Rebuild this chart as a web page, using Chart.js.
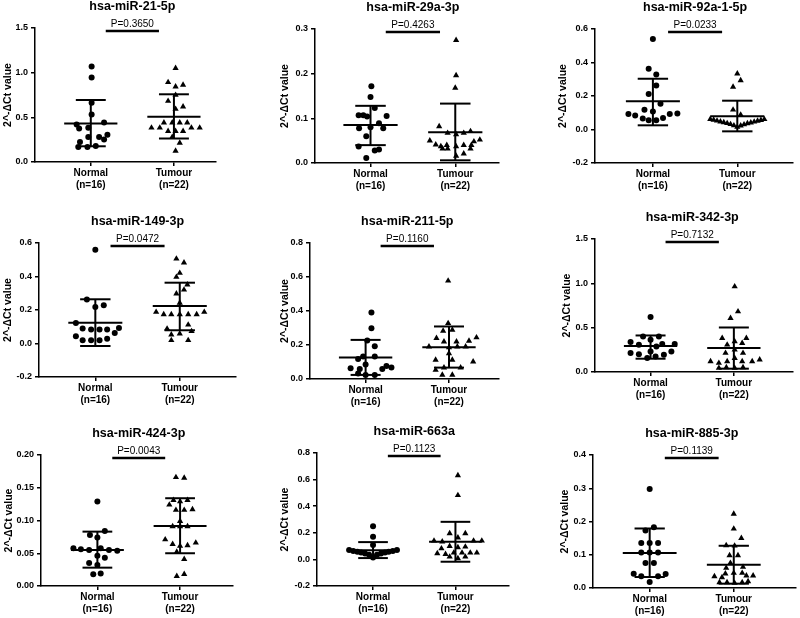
<!DOCTYPE html>
<html>
<head>
<meta charset="utf-8">
<script src="https://cdn.jsdelivr.net/npm/chart.js@4.4.0/dist/chart.umd.min.js"></script>
<style>
  html, body { margin: 0; padding: 0; background: #fff; }
  #wrap { position: relative; width: 800px; height: 618px; overflow: hidden; }
  canvas { position: absolute; }
</style>
</head>
<body>
<div id="wrap"></div>
<script>
// ---- data ----
const titles = ['hsa-miR-21-5p', 'hsa-miR-29a-3p', 'hsa-miR-92a-1-5p', 'hsa-miR-149-3p', 'hsa-miR-211-5p',
                'hsa-miR-342-3p', 'hsa-miR-424-3p', 'hsa-miR-663a', 'hsa-miR-885-3p'];
const pValues = ['P=0.3650', 'P=0.4263', 'P=0.0233', 'P=0.0472', 'P=0.1160', 'P=0.7132', 'P=0.0043', 'P=0.1123', 'P=0.1139'];
const categories = ['Normal', 'Tumour'];
const groupSizes = ['(n=16)', '(n=22)'];
const yMin = [0, 0, -0.2, -0.2, 0, 0, 0, -0.2, 0];
const yMax = [1.5, 0.3, 0.6, 0.6, 0.8, 1.5, 0.2, 0.8, 0.4];
const yStep = [0.5, 0.1, 0.2, 0.2, 0.2, 0.5, 0.05, 0.2, 0.1];
const yDecimals = [1, 1, 1, 1, 1, 1, 2, 1, 1];

const normalValues = [
  [1.069, 0.945, 0.664, 0.532, 0.42, 0.442, 0.375, 0.383, 0.304, 0.281, 0.281, 0.251, 0.225, 0.169, 0.169, 0.18],
  [0.172, 0.148, 0.123, 0.107, 0.107, 0.104, 0.105, 0.089, 0.08, 0.078, 0.078, 0.06, 0.037, 0.028, 0.03, 0.011],
  [0.54, 0.363, 0.329, 0.262, 0.212, 0.154, 0.118, 0.108, 0.093, 0.083, 0.065, 0.055, 0.055, 0.069, 0.093, 0.095],
  [0.56, 0.262, 0.218, 0.228, 0.122, 0.089, 0.083, 0.083, 0.083, 0.093, 0.063, 0.043, 0.019, 0.019, 0.019, 0.029],
  [0.391, 0.299, 0.226, 0.193, 0.118, 0.132, 0.132, 0.086, 0.063, 0.059, 0.059, 0.077, 0.067, 0.033, 0.024, 0.024],
  [0.619, 0.401, 0.401, 0.337, 0.364, 0.307, 0.315, 0.315, 0.214, 0.2, 0.232, 0.232, 0.157, 0.176, 0.195, 0.289],
  [0.129, 0.078, 0.084, 0.074, 0.0575, 0.056, 0.055, 0.0575, 0.055, 0.054, 0.046, 0.043, 0.035, 0.032, 0.018, 0.019],
  [0.25, 0.17, 0.108, 0.07, 0.064, 0.058, 0.052, 0.045, 0.035, 0.015, 0.035, 0.045, 0.052, 0.058, 0.064, 0.07],
  [0.298, 0.183, 0.173, 0.135, 0.135, 0.135, 0.107, 0.107, 0.107, 0.075, 0.075, 0.043, 0.042, 0.035, 0.035, 0.018]
];
// horizontal scatter of each dot around its category (category units)
const normalJitter = [
  [0.01, 0.01, 0.01, 0.01, -0.17, 0.16, -0.14, -0.03, 0.2, -0.03, 0.1, 0.16, -0.13, -0.15, -0.04, 0.06],
  [0.01, 0, 0.05, -0.14, -0.085, -0.04, 0.19, 0.1, 0, -0.135, 0.15, -0.05, -0.14, 0.05, 0.1, -0.05],
  [0, -0.05, 0.04, 0.04, -0.05, 0.09, -0.1, 0, -0.29, -0.21, -0.12, -0.05, 0.04, 0.12, 0.2, 0.29],
  [0, -0.1, 0, 0.1, -0.23, -0.15, -0.05, 0.05, 0.14, 0.28, 0.23, -0.23, -0.15, -0.05, 0.05, 0.14],
  [0.07, 0.07, 0.02, 0.11, -0.09, -0.03, 0.11, 0, -0.18, -0.07, 0.2, 0.25, 0.31, -0.09, 0, 0.11],
  [0, -0.09, 0.1, -0.24, 0, -0.14, 0.14, 0.29, -0.24, -0.14, 0.25, 0, -0.04, 0.06, 0.16, 0.07],
  [0, -0.09, 0.09, 0, -0.29, -0.2, -0.1, 0.04, 0.14, 0.24, 0, 0.09, -0.1, 0, -0.05, 0.04],
  [0, 0, 0, -0.29, -0.24, -0.19, -0.145, -0.097, -0.048, 0, 0.048, 0.097, 0.145, 0.19, 0.24, 0.29],
  [0, 0.05, -0.05, -0.1, 0, 0.1, -0.1, 0, 0.1, -0.05, 0.05, -0.19, 0.19, -0.1, 0.1, 0]
];
const tumourValues = [
  [1.05, 0.893, 0.844, 0.863, 0.75, 0.683, 0.619, 0.593, 0.44, 0.44, 0.44, 0.44, 0.383, 0.383, 0.383, 0.383, 0.345, 0.345, 0.345, 0.28, 0.214, 0.124],
  [0.275, 0.196, 0.168, 0.082, 0.067, 0.064, 0.067, 0.071, 0.05, 0.041, 0.037, 0.04, 0.04, 0.04, 0.048, 0.052, 0.032, 0.037, 0.032, 0.016, 0.021, 0.032],
  [0.333, 0.293, 0.254, 0.118, 0.088, 0.062, 0.057, 0.052, 0.047, 0.042, 0.037, 0.031, 0.024, 0.015, 0.023, 0.03, 0.036, 0.041, 0.046, 0.051, 0.056, 0.061],
  [0.506, 0.483, 0.421, 0.397, 0.351, 0.298, 0.321, 0.242, 0.188, 0.174, 0.174, 0.174, 0.174, 0.174, 0.188, 0.112, 0.088, 0.073, 0.053, 0.059, 0.019, 0.019],
  [0.578, 0.328, 0.289, 0.283, 0.24, 0.244, 0.22, 0.22, 0.224, 0.19, 0.185, 0.19, 0.19, 0.151, 0.112, 0.112, 0.102, 0.067, 0.067, 0.053, 0.024, 0.024],
  [0.964, 0.682, 0.607, 0.382, 0.382, 0.345, 0.307, 0.326, 0.214, 0.214, 0.157, 0.12, 0.101, 0.12, 0.12, 0.12, 0.139, 0.052, 0.045, 0.052, 0.045, 0.251],
  [0.166, 0.165, 0.124, 0.131, 0.131, 0.116, 0.116, 0.117, 0.099, 0.091, 0.091, 0.091, 0.071, 0.064, 0.061, 0.062, 0.066, 0.052, 0.041, 0.015, 0.018, 0.129],
  [0.632, 0.482, 0.195, 0.195, 0.163, 0.14, 0.133, 0.14, 0.14, 0.1, 0.095, 0.09, 0.045, 0.04, 0.05, 0.05, 0.05, 0.05, 0.02, 0.0075, 0.02, 0.082],
  [0.223, 0.178, 0.15, 0.128, 0.127, 0.098, 0.098, 0.06, 0.063, 0.043, 0.045, 0.045, 0.035, 0.032, 0.037, 0.037, 0.017, 0.017, 0.015, 0.017, 0.02, 0.075]
];
const tumourJitter = [
  [0.02, -0.07, 0.02, 0.11, 0.02, -0.07, 0.11, 0.02, -0.12, -0.02, 0.07, 0.16, -0.27, -0.17, 0.21, 0.31, -0.07, 0.02, 0.11, -0.02, 0.07, 0.02],
  [0.01, 0.01, 0, -0.19, -0.09, 0.01, 0.1, 0.18, -0.3, -0.23, -0.17, -0.1, 0.1, 0.19, 0.22, 0.29, -0.09, 0.01, 0.18, 0.01, 0.1, -0.15],
  [0, 0.04, -0.05, -0.05, 0.04, -0.32, -0.28, -0.24, -0.2, -0.16, -0.12, -0.08, -0.04, 0, 0.04, 0.08, 0.12, 0.16, 0.2, 0.24, 0.28, 0.32],
  [-0.04, 0.05, 0, -0.04, 0.09, -0.04, 0.05, 0, -0.28, -0.19, -0.1, 0, 0.1, 0.2, 0.29, 0.1, -0.15, 0.14, -0.1, 0, 0.1, -0.1],
  [-0.01, -0.01, 0.04, -0.07, -0.15, 0.33, -0.06, 0.09, 0.24, -0.24, 0, 0.1, 0.2, 0, -0.16, 0.04, 0.29, -0.06, 0.14, -0.16, -0.08, 0.04],
  [0.01, 0.05, -0.04, -0.14, 0.15, 0.01, -0.08, 0.1, -0.1, 0.11, 0.01, -0.28, -0.18, -0.08, 0.1, 0.22, 0.31, -0.09, 0.01, 0.11, -0.18, 0.01],
  [-0.05, 0.05, -0.13, -0.08, 0.09, -0.05, 0.05, 0.15, 0, -0.09, 0.09, 0, -0.18, -0.09, 0, 0.09, 0.19, -0.04, 0.05, -0.04, 0.05, 0],
  [0.03, 0.03, -0.07, 0.12, 0.03, -0.26, -0.16, 0.22, 0.32, -0.07, 0.12, 0.03, -0.22, -0.12, -0.02, 0.08, 0.18, 0.26, -0.07, 0.03, 0.12, -0.17],
  [0, 0, 0.09, -0.09, 0.01, -0.05, 0.05, -0.09, 0.11, -0.1, 0, 0.1, -0.23, -0.14, 0.15, 0.23, -0.17, -0.08, 0.01, 0.1, 0.17, -0.04]
];
// mean and mean ± SD as drawn
const normalMean = [0.431, 0.085, 0.168, 0.124, 0.126, 0.292, 0.055, 0.068, 0.105];
const normalLow  = [0.176, 0.040, 0.025, -0.015, 0.024, 0.15, 0.028, 0.01, 0.033];
const normalHigh = [0.694, 0.128, 0.303, 0.264, 0.23, 0.412, 0.083, 0.13, 0.179];
const tumourMean = [0.506, 0.0687, 0.079, 0.224, 0.187, 0.27, 0.0916, 0.1325, 0.07];
const tumourLow  = [0.263, 0.006, -0.011, 0.079, 0.067, 0.0375, 0.05, -0.0175, 0.013];
const tumourHigh = [0.758, 0.133, 0.172, 0.363, 0.309, 0.502, 0.134, 0.2825, 0.127];

// ---- layout of each panel: y-axis x, plot top, plot bottom, axis right end, y-axis box width, x range ----
const layout = [
  { ax: 35,  top: 28,  bottom: 162, right: 220, wy: 33, xMin: 0.329, xMax: 2.506 },
  { ax: 315, top: 29,  bottom: 163, right: 503, wy: 36, xMin: 0.345, xMax: 2.516 },
  { ax: 595, top: 29,  bottom: 163, right: 797, wy: 38, xMin: 0.314, xMax: 2.66 },
  { ax: 39,  top: 243, bottom: 377, right: 240, wy: 37, xMin: 0.333, xMax: 2.666 },
  { ax: 310, top: 243, bottom: 379, right: 503, wy: 31, xMin: 0.333, xMax: 2.6 },
  { ax: 595, top: 239, bottom: 372, right: 797, wy: 34, xMin: 0.333, xMax: 2.71 },
  { ax: 41,  top: 455, bottom: 586, right: 237, wy: 38, xMin: 0.318, xMax: 2.64 },
  { ax: 317, top: 453, bottom: 586, right: 513, wy: 38, xMin: 0.32,  xMax: 2.65 },
  { ax: 593, top: 455, bottom: 588, right: 800, wy: 34, xMin: 0.326, xMax: 2.74 }
];
const PAD_TOP = 30, X_AXIS_H = 36;
const MEAN_HALF = 0.32, CAP_HALF = 0.18;

Chart.defaults.font.family = '"Liberation Sans", Arial, sans-serif';
Chart.defaults.color = '#000';

// title above the panel and the p-value bar between the two groups
const annotations = {
  id: 'annotations',
  afterDraw(chart, args, opts) {
    const { ctx, chartArea, scales } = chart;
    const cx = scales.x.getPixelForValue(1.5);
    ctx.save();
    ctx.fillStyle = '#000';
    ctx.textAlign = 'center';
    ctx.textBaseline = 'middle';
    ctx.font = 'bold 12.5px "Liberation Sans", Arial, sans-serif';
    ctx.fillText(opts.title, cx, chartArea.top - 21);
    ctx.font = '10px "Liberation Sans", Arial, sans-serif';
    ctx.fillText(opts.p, cx, chartArea.top - 4);
    ctx.strokeStyle = '#000';
    ctx.lineWidth = 2.5;
    ctx.beginPath();
    ctx.moveTo(scales.x.getPixelForValue(1.18), chartArea.top + 3);
    ctx.lineTo(scales.x.getPixelForValue(1.82), chartArea.top + 3);
    ctx.stroke();
    ctx.restore();
  }
};

function segment(x1, y1, x2, y2) {
  return {
    data: [{ x: x1, y: y1 }, { x: x2, y: y2 }],
    showLine: true, borderColor: '#000', borderWidth: 2,
    pointRadius: 0, pointHoverRadius: 0, clip: false
  };
}

function errorBars(c, mean, low, high) {
  return [
    segment(c - MEAN_HALF, mean, c + MEAN_HALF, mean),
    segment(c - CAP_HALF, high, c + CAP_HALF, high),
    segment(c - CAP_HALF, low, c + CAP_HALF, low),
    segment(c, low, c, high)
  ];
}

const wrap = document.getElementById('wrap');

titles.forEach((title, i) => {
  const L = layout[i];
  const canvas = document.createElement('canvas');
  const w = L.wy + (L.right - L.ax);
  const h = PAD_TOP + (L.bottom - L.top) + X_AXIS_H;
  canvas.width = w;
  canvas.height = h;
  canvas.style.left = (L.ax - L.wy) + 'px';
  canvas.style.top = (L.top - PAD_TOP) + 'px';
  wrap.appendChild(canvas);

  const normalPts = normalValues[i].map((v, k) => ({ x: 1 + normalJitter[i][k], y: v }));
  const tumourPts = tumourValues[i].map((v, k) => ({ x: 2 + tumourJitter[i][k], y: v }));

  new Chart(canvas.getContext('2d'), {
    type: 'scatter',
    data: {
      datasets: [
        { data: normalPts, pointStyle: 'circle', pointRadius: 3, backgroundColor: '#000', borderColor: '#000', borderWidth: 0 },
        { data: tumourPts, pointStyle: 'triangle', pointRadius: 3.6, backgroundColor: '#000', borderColor: '#000', borderWidth: 0 },
        ...errorBars(1, normalMean[i], normalLow[i], normalHigh[i]),
        ...errorBars(2, tumourMean[i], tumourLow[i], tumourHigh[i])
      ]
    },
    options: {
      responsive: false,
      animation: false,
      layout: { padding: { top: PAD_TOP, left: 0, right: 0, bottom: 0 } },
      plugins: {
        legend: { display: false },
        tooltip: { enabled: false },
        annotations: { title: title, p: pValues[i] }
      },
      scales: {
        x: {
          type: 'linear',
          min: L.xMin,
          max: L.xMax,
          afterBuildTicks: axis => { axis.ticks = [{ value: 1 }, { value: 2 }]; },
          afterFit: s => { s.height = X_AXIS_H; },
          ticks: {
            callback: v => [categories[v - 1], groupSizes[v - 1]],
            font: { size: 10, weight: 'bold' },
            color: '#000',
            padding: 1,
            maxRotation: 0,
            autoSkip: false
          },
          grid: { drawOnChartArea: false, tickLength: 4, color: '#000', lineWidth: 1.5 },
          border: { color: '#000', width: 1.5 }
        },
        y: {
          min: yMin[i],
          max: yMax[i],
          afterFit: s => { s.width = L.wy; },
          ticks: {
            stepSize: yStep[i],
            callback: v => v.toFixed(yDecimals[i]),
            font: { size: 9, weight: 'bold' },
            color: '#000',
            padding: 3
          },
          title: {
            display: true,
            text: '2^-ΔCt value',
            font: { size: 10.5, weight: 'bold' },
            color: '#000',
            padding: 0
          },
          grid: { drawOnChartArea: false, tickLength: 4, color: '#000', lineWidth: 1.5 },
          border: { color: '#000', width: 1.5 }
        }
      }
    },
    plugins: [annotations]
  });
});
</script>
</body>
</html>
